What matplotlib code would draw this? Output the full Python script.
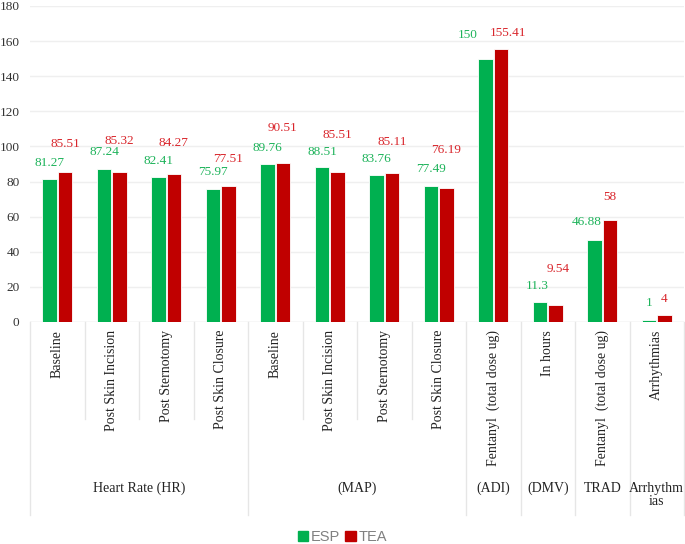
import matplotlib
matplotlib.use("Agg")
import matplotlib.pyplot as plt
from matplotlib.patches import Patch
from matplotlib.transforms import blended_transform_factory
import numpy as np

subcats = ["Baseline", "Post Skin Incision", "Post Sternotomy", "Post Skin Closure",
           "Baseline", "Post Skin Incision", "Post Sternotomy", "Post Skin Closure",
           "Fentanyl  (total dose ug)", "In hours", "Fentanyl  (total dose ug)", "Arrhythmias"]
groups = ["Heart Rate (HR)", "(MAP)", "(ADI)", "(DMV)", "TRAD", "Arrhythm\nias"]
group_sizes = [4, 4, 1, 1, 1, 1]
esp = [81.27, 87.24, 82.41, 75.97, 89.76, 88.51, 83.76, 77.49, 150, 11.3, 46.88, 1]
tea = [85.51, 85.32, 84.27, 77.51, 90.51, 85.51, 85.11, 76.19, 155.41, 9.54, 58, 4]
esp_labels = ["81.27", "87.24", "82.41", "75.97", "89.76", "88.51", "83.76", "77.49", "150", "11.3", "46.88", "1"]
tea_labels = ["85.51", "85.32", "84.27", "77.51", "90.51", "85.51", "85.11", "76.19", "155.41", "9.54", "58", "4"]
yticks = [0, 20, 40, 60, 80, 100, 120, 140, 160, 180]

# label offsets from bar tops (pixels) - styling
esp_dy = [16, 17, 16, 17, 16, 15, 16, 17, 24, 16, 18, 17]
tea_dy = [28, 31, 31, 27, 35, 37, 31, 38, 16, 36, 23, 16]
esp_dx = [0, 0, 0, 0, 0, 0, 0, 0, -18, -3, -8, 0]
tea_dx = [0, 0, 0, 0, 0, 0, 0, 0, 7, 3, 0, 0]

GREEN = "#00B050"
RED = "#C00000"
GREEN_T = "#1DB35A"
RED_T = "#D9262C"
SERIF = "Liberation Serif"

fig = plt.figure(figsize=(6.85, 5.44), dpi=100)
ax = fig.add_axes([30/685, 1-322/544, 654/685, 316/544])

x = np.arange(len(subcats))
w = 0.265
d = 0.14
ax.bar(x - d, esp, w, color=GREEN, edgecolor="white", linewidth=0.6, zorder=3)
ax.bar(x + d, tea, w, color=RED, edgecolor="white", linewidth=0.6, zorder=3)

for i in range(len(x)):
    ax.annotate(esp_labels[i], (x[i] - d, esp[i]), xytext=(esp_dx[i], esp_dy[i]),
                textcoords="offset pixels", ha="center", va="center",
                color=GREEN_T, fontsize=9.5, family=SERIF, zorder=4)
    ax.annotate(tea_labels[i], (x[i] + d, tea[i]), xytext=(tea_dx[i], tea_dy[i]),
                textcoords="offset pixels", ha="center", va="center",
                color=RED_T, fontsize=9.5, family=SERIF, zorder=4)

ax.set_xlim(-0.5, len(subcats) - 0.5)
ax.set_ylim(0, 180)
ax.set_yticks(yticks)
ax.set_yticklabels([str(v) for v in yticks], family=SERIF, fontsize=9.5, color="#333333")
ax.tick_params(axis="y", length=0, pad=7.5)
ax.set_xticks([])
for s in ax.spines.values():
    s.set_visible(False)
for v in yticks[1:]:
    ax.axhline(v, color="#EFEFEF", linewidth=1, zorder=1)
ax.axhline(0, color="#D9D9D9", linewidth=1, zorder=2)

tr = blended_transform_factory(ax.transData, ax.transAxes)
# subcategory labels
for i, lab in enumerate(subcats):
    ax.text(x[i], -0.025, lab, rotation=90, ha="center", va="top", transform=tr,
            family=SERIF, fontsize=10, color="#222222")

# separators
bounds = np.cumsum([0] + group_sizes) - 0.5
group_bounds = set(np.round(bounds, 2))
for b in np.arange(-0.5, len(subcats), 1.0):
    y1 = -0.611 if round(b, 2) in group_bounds else -0.307
    ax.plot([b, b], [0, y1], transform=tr, color="#E6E6E6", linewidth=1, clip_on=False)

for g, lab in enumerate(groups):
    cx = (bounds[g] + bounds[g + 1]) / 2
    ax.text(cx, -0.505, lab, ha="center", va="top", transform=tr, family=SERIF,
            fontsize=10, color="#222222", linespacing=1.0)

handles = [Patch(facecolor=GREEN, edgecolor=GREEN, label="ESP"),
           Patch(facecolor=RED, edgecolor=RED, label="TEA")]
leg = fig.legend(handles=handles, loc="center", bbox_to_anchor=(0.5, 1 - 537/544), ncol=2,
                 frameon=False, prop={"family": "Liberation Sans", "size": 10.5},
                 handlelength=0.7, handleheight=0.7, handletextpad=0.2, columnspacing=0.35)
for t in leg.get_texts():
    t.set_color("#808080")

fig.savefig("out.png", dpi=100)
